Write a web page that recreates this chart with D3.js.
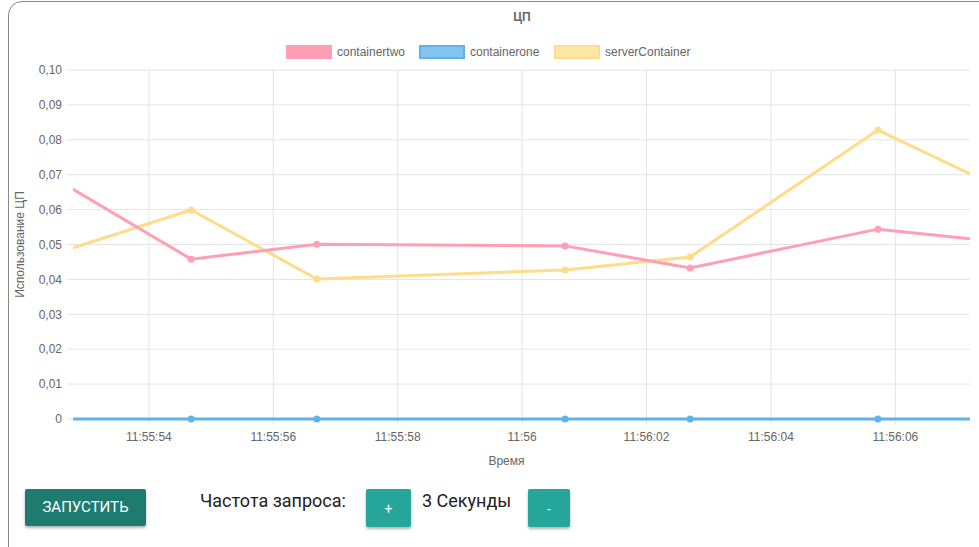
<!DOCTYPE html>
<html lang="ru">
<head>
<meta charset="UTF-8">
<script src="https://d3js.org/d3.v7.min.js"></script>
<style>
    body { margin: 0; background: #fff; font-family: Arial, "Liberation Sans", sans-serif; }
    .card {
        position: absolute; left: 8px; top: 1px; width: 990px; height: 560px;
        border: 1px solid #888; border-radius: 14px; box-sizing: border-box;
    }
    svg { position: absolute; left: 0; top: 0; }
    .btn {
        position: absolute; background: #26a69a; color: #fff; border-radius: 2px;
        box-shadow: 0 2px 3px rgba(0,0,0,0.3); text-align: center;
        font-family: Roboto, sans-serif; font-size: 14px;
    }
    .lbl { position: absolute; font-family: Roboto, sans-serif; font-size: 18px; color: #222; }
</style>
</head>
<body>
<div class="card"></div>
<svg id="chart" width="979" height="547"></svg>
<div class="btn" style="left:25px;top:489px;width:121px;height:37px;line-height:37px;background:#1e7b70;font-size:15px;">ЗАПУСТИТЬ</div>
<div class="lbl" style="left:200px;top:490px;">Частота запроса:</div>
<div class="btn" style="left:366px;top:489px;width:45px;height:38px;line-height:40px;">+</div>
<div class="lbl" style="left:422px;top:490px;">3 Секунды</div>
<div class="btn" style="left:528px;top:489px;width:42px;height:38px;line-height:40px;">-</div>
<script>
    // sample times (seconds after 11:55:00)
    const seconds = [52.67, 54.68, 56.70, 60.69, 62.70, 65.72, 67.70];
    const containertwo = [0.067, 0.0458, 0.0501, 0.0496, 0.0433, 0.0544, 0.0507];
    const containerone = [0, 0, 0, 0, 0, 0, 0];
    const serverContainer = [0.0484, 0.0599, 0.0401, 0.0427, 0.0464, 0.0828, 0.066];
    const seriesNames = ["containertwo", "containerone", "serverContainer"];
    const strokeColors = ["#ff9fb3", "#5fb2ea", "#ffdc8a"];
    const fillColors = ["#ff9eb4", "#85c4f0", "#ffe6a8"];
    const yTicks = [0, 0.01, 0.02, 0.03, 0.04, 0.05, 0.06, 0.07, 0.08, 0.09, 0.10];

    const base = new Date(2020, 0, 1, 11, 55, 0).getTime();
    const toDate = s => new Date(base + s * 1000);

    const margin = { top: 70, right: 9, bottom: 128, left: 73 };
    const width = 979 - margin.left - margin.right;
    const height = 547 - margin.top - margin.bottom;

    const svg = d3.select("#chart");
    const g = svg.append("g").attr("transform", `translate(${margin.left},${margin.top})`);

    const x = d3.scaleTime()
        .domain([toDate(52.78), toDate(67.2)])
        .range([0, width]);
    const y = d3.scaleLinear().domain([0, 0.1]).range([height, 0]);

    const xTicks = [54, 56, 58, 60, 62, 64, 66].map(toDate);
    const fmt = d => d.getSeconds() === 0 ? d3.timeFormat("%H:%M")(d) : d3.timeFormat("%H:%M:%S")(d);

    // grid
    g.append("g").selectAll("line").data(yTicks).join("line")
        .attr("x1", -6).attr("x2", width)
        .attr("y1", d => y(d)).attr("y2", d => y(d))
        .attr("stroke", "#e4e4e4");
    g.append("g").selectAll("line").data(xTicks).join("line")
        .attr("x1", d => x(d)).attr("x2", d => x(d))
        .attr("y1", 0).attr("y2", height + 6)
        .attr("stroke", "#e4e4e4");

    g.append("g").selectAll("text").data(yTicks).join("text")
        .attr("x", -11).attr("y", d => y(d)).attr("dy", "0.35em")
        .attr("text-anchor", "end").attr("font-size", 12).attr("fill", "#666")
        .text(d => d === 0 ? "0" : d3.format(".2f")(d).replace(".", ","));
    g.append("g").selectAll("text").data(xTicks).join("text")
        .attr("x", d => x(d)).attr("y", height + 22)
        .attr("text-anchor", "middle").attr("font-size", 12).attr("fill", "#666")
        .text(fmt);

    svg.append("text").attr("x", margin.left + width / 2 - 15).attr("y", 465)
        .attr("text-anchor", "middle").attr("font-size", 12).attr("fill", "#666").text("Время");
    svg.append("text").attr("transform", `translate(24,${margin.top + height / 2}) rotate(-90)`)
        .attr("text-anchor", "middle").attr("font-size", 12).attr("fill", "#666").text("Использование ЦП");
    svg.append("text").attr("x", 522).attr("y", 21).attr("text-anchor", "middle")
        .attr("font-size", 12).attr("font-weight", "bold").attr("fill", "#666").text("ЦП");

    // legend
    const legendX = [287, 420, 555];
    seriesNames.forEach((name, i) => {
        svg.append("rect").attr("x", legendX[i]).attr("y", 46).attr("width", 44).attr("height", 12)
            .attr("fill", fillColors[i]).attr("stroke", strokeColors[i]).attr("stroke-width", 2);
        svg.append("text").attr("x", legendX[i] + 50).attr("y", 56).attr("font-size", 12)
            .attr("fill", "#666").text(name);
    });

    svg.append("clipPath").attr("id", "clip").append("rect")
        .attr("x", 0).attr("y", -5).attr("width", width).attr("height", height + 10);
    const plot = g.append("g").attr("clip-path", "url(#clip)");

    const allSeries = [containertwo, containerone, serverContainer];
    const line = d3.line().x(d => x(toDate(d[0]))).y(d => y(d[1]));
    [2, 0, 1].forEach(i => {
        const pts = seconds.map((s, j) => [s, allSeries[i][j]]);
        plot.append("path").datum(pts).attr("d", line)
            .attr("fill", "none").attr("stroke", strokeColors[i]).attr("stroke-width", 3);
        plot.selectAll(null).data(pts).join("circle")
            .attr("cx", d => x(toDate(d[0]))).attr("cy", d => y(d[1])).attr("r", 3.5)
            .attr("fill", strokeColors[i]);
    });
</script>
</body>
</html>
